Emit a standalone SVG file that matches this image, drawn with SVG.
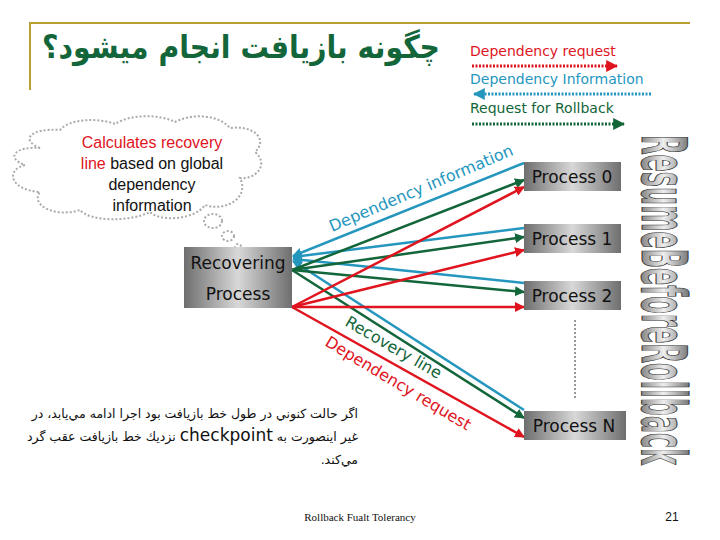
<svg xmlns="http://www.w3.org/2000/svg" width="720" height="540" viewBox="0 0 720 540">
<defs>
<linearGradient id="gbox" x1="0" y1="0" x2="1" y2="0">
<stop offset="0" stop-color="#6e6e6e"/><stop offset="0.5" stop-color="#d8d8d8"/><stop offset="1" stop-color="#6e6e6e"/>
</linearGradient>
<linearGradient id="gtxt" x1="0" y1="0" x2="0" y2="1">
<stop offset="0" stop-color="#444"/><stop offset="0.5" stop-color="#eee"/><stop offset="1" stop-color="#444"/>
</linearGradient>
<marker id="aB" viewBox="0 0 10 10" refX="9" refY="5" markerWidth="4" markerHeight="4" orient="auto-start-reverse"><path d="M0,0L10,5L0,10z" fill="#2596be"/></marker>
<marker id="aG" viewBox="0 0 10 10" refX="9" refY="5" markerWidth="4" markerHeight="4" orient="auto"><path d="M0,0L10,5L0,10z" fill="#13653a"/></marker>
<marker id="aR" viewBox="0 0 10 10" refX="9" refY="5" markerWidth="4" markerHeight="4" orient="auto"><path d="M0,0L10,5L0,10z" fill="#e0141e"/></marker>
</defs>
<style>
.b{stroke:#2596be;stroke-width:2.5;fill:none}
.g{stroke:#13653a;stroke-width:2.5;fill:none}
.r{stroke:#e0141e;stroke-width:2.5;fill:none}
.box{fill:url(#gbox)}
.pt{font-family:"Comic Sans MS","DejaVu Sans",sans-serif;font-size:17px;fill:#111}
.cloud{fill:#fff;stroke:#aaa;stroke-width:2;stroke-dasharray:2 2}
</style>
<rect width="720" height="540" fill="#fff"/>
<path d="M30,90V23H690" stroke="#b8a030" stroke-width="2" fill="none"/>
<text x="440" y="58" text-anchor="start" font-family="DejaVu Sans,sans-serif" font-weight="bold" font-size="32" fill="#13653a" direction="rtl" textLength="398" lengthAdjust="spacingAndGlyphs">چگونه بازيافت انجام ميشود؟</text>
<g id="legend" font-family="DejaVu Sans,sans-serif" font-size="14">
<text x="470" y="56" fill="#e0141e">Dependency request</text>
<line x1="472" y1="66" x2="617" y2="66" stroke="#e0141e" stroke-width="3" stroke-dasharray="2 1.5" marker-end="url(#aR)"/>
<text x="470" y="84" fill="#2596be">Dependency Information</text>
<line x1="651" y1="94" x2="474" y2="94" stroke="#2596be" stroke-width="3" stroke-dasharray="2 1.5" marker-end="url(#aB)"/>
<text x="470" y="113" fill="#13653a">Request for Rollback</text>
<line x1="472" y1="124" x2="624" y2="124" stroke="#13653a" stroke-width="3" stroke-dasharray="2 1.5" marker-end="url(#aG)"/>
</g>
<g id="cloud">
<path class="cloud" d="M40,148C20,140 30,128 60,130C70,118 100,118 115,124C130,114 160,114 175,122C195,112 220,116 230,128C255,125 268,140 255,152C270,165 255,180 240,178C250,198 225,212 205,205C195,220 160,222 150,212C130,222 90,222 80,210C55,218 30,205 40,192C10,190 5,170 25,165C5,158 15,146 40,148Z"/>
<ellipse class="cloud" cx="213" cy="221" rx="9" ry="7"/>
<ellipse class="cloud" cx="228" cy="236" rx="6" ry="5"/>
<ellipse class="cloud" cx="238" cy="247" rx="3" ry="3"/>
<text font-family="Liberation Sans,Arial,sans-serif" font-size="16" text-anchor="middle" fill="#111"><tspan x="152" y="148" fill="#e0141e">Calculates recovery</tspan><tspan x="152" y="169"><tspan fill="#e0141e">line</tspan> based on global</tspan><tspan x="152" y="190">dependency</tspan><tspan x="152" y="211">information</tspan></text>
</g>
<g id="connectors">
<line class="b" x1="524" y1="163" x2="293" y2="256" marker-end="url(#aB)"/>
<line class="b" x1="524" y1="228" x2="293" y2="257" marker-end="url(#aB)"/>
<line class="b" x1="524" y1="283" x2="293" y2="259" marker-end="url(#aB)"/>
<line class="b" x1="524" y1="410" x2="293" y2="261" marker-end="url(#aB)"/>
<line class="g" x1="292" y1="270" x2="524" y2="180" marker-end="url(#aG)"/>
<line class="g" x1="292" y1="270" x2="524" y2="237" marker-end="url(#aG)"/>
<line class="g" x1="292" y1="270" x2="524" y2="292" marker-end="url(#aG)"/>
<line class="g" x1="292" y1="270" x2="524" y2="418" marker-end="url(#aG)"/>
<line class="r" x1="292" y1="307" x2="524" y2="187" marker-end="url(#aR)"/>
<line class="r" x1="292" y1="307" x2="524" y2="250" marker-end="url(#aR)"/>
<line class="r" x1="292" y1="307" x2="524" y2="307" marker-end="url(#aR)"/>
<line class="r" x1="292" y1="307" x2="524" y2="437" marker-end="url(#aR)"/>
<text transform="translate(332,232) rotate(-23)" font-family="DejaVu Sans,sans-serif" font-size="16" fill="#2596be">Dependency information</text>
<text transform="translate(344,325) rotate(30)" font-family="DejaVu Sans,sans-serif" font-size="16" fill="#13653a">Recovery line</text>
<text transform="translate(324,345) rotate(31)" font-family="DejaVu Sans,sans-serif" font-size="16" fill="#e0141e">Dependency request</text>
<line x1="575" y1="320" x2="575" y2="398" stroke="#777" stroke-width="1.5" stroke-dasharray="2 2"/>
</g>
<g id="recovering"><rect class="box" x="184" y="247" width="108" height="61"/><text class="pt" x="238" y="269" text-anchor="middle">Recovering</text><text class="pt" x="238" y="300" text-anchor="middle">Process</text></g>
<g id="p0"><rect class="box" x="524" y="162" width="97" height="29"/><text class="pt" x="572" y="183" text-anchor="middle">Process 0</text></g>
<g id="p1"><rect class="box" x="524" y="224" width="97" height="29"/><text class="pt" x="572" y="245" text-anchor="middle">Process 1</text></g>
<g id="p2"><rect class="box" x="524" y="281" width="97" height="29"/><text class="pt" x="572" y="302" text-anchor="middle">Process 2</text></g>
<g id="pN"><rect class="box" x="524" y="411" width="102" height="29"/><text class="pt" x="574" y="432" text-anchor="middle">Process N</text></g>
<text transform="translate(642,135) rotate(90)" font-family="DejaVu Sans Condensed,DejaVu Sans,sans-serif" font-weight="bold" font-size="62" textLength="330" lengthAdjust="spacingAndGlyphs" fill="url(#gtxt)" stroke="#333" stroke-width="1">ResumeBeforeRollback</text>
<g font-family="DejaVu Sans,sans-serif" font-size="12.5" fill="#111" text-anchor="start" direction="rtl">
<text x="358" y="418">اگر حالت كنوني در طول خط بازيافت بود اجرا ادامه مي‌يابد، در</text>
<text x="358" y="441">غير اينصورت به <tspan font-size="17">checkpoint</tspan> نزديك خط بازيافت عقب گرد</text>
<text x="358" y="464">مي‌كند.</text>
</g>
<text x="360" y="521" text-anchor="middle" font-family="Liberation Serif,serif" font-size="11" fill="#111">Rollback Fualt Tolerancy</text>
<text x="672" y="521" text-anchor="middle" font-family="Liberation Sans,sans-serif" font-size="12" fill="#111">21</text>
</svg>
